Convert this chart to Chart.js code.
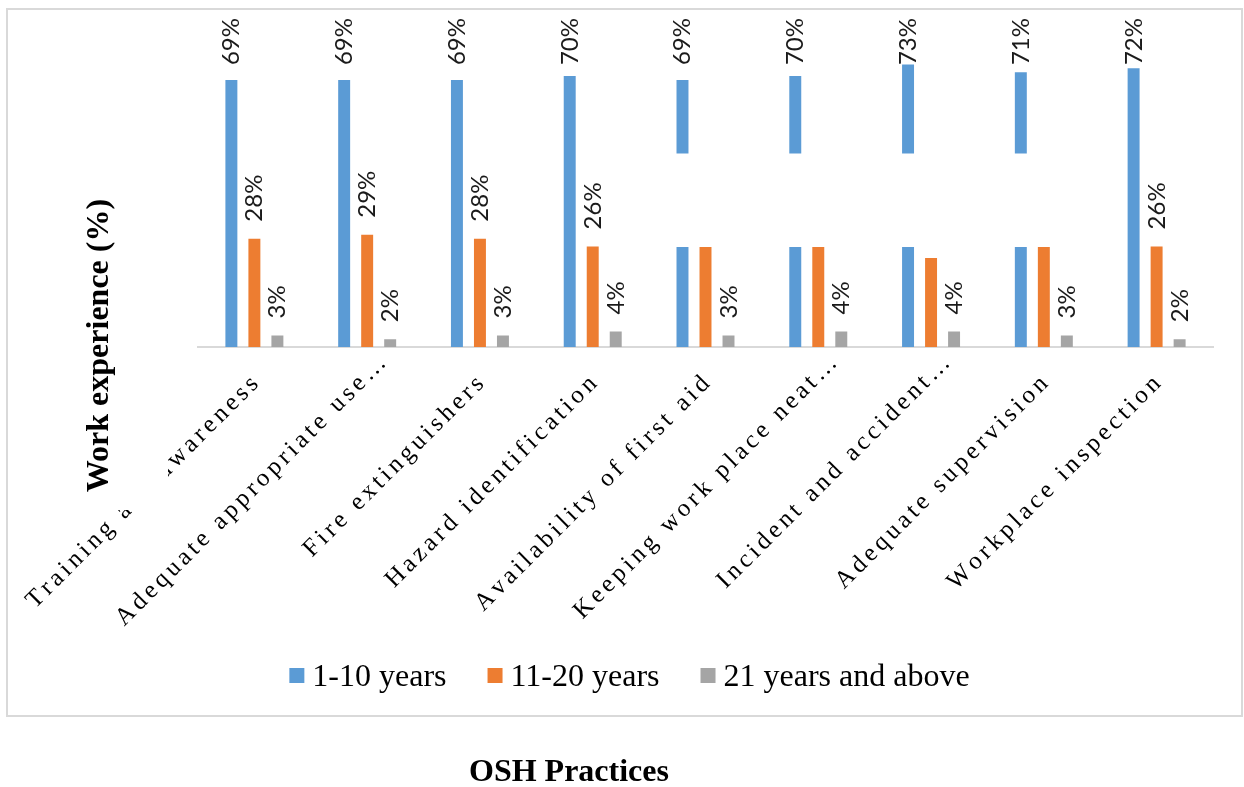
<!DOCTYPE html>
<html>
<head>
<meta charset="utf-8">
<script src="https://cdn.jsdelivr.net/npm/chart.js@4.4.1/dist/chart.umd.min.js"></script>
<style>
  html, body { margin: 0; padding: 0; background: #fff; }
  #wrap { width: 1244px; height: 787px; }
  canvas { display: block; }
</style>
</head>
<body>
<div id="wrap"><canvas id="chart" width="1244" height="787"></canvas></div>
<script>
// OSH practices by work experience group (percent of respondents)
const categories = [
  'Training and awareness',
  'Adequate appropriate use…',
  'Fire extinguishers',
  'Hazard identification',
  'Availability of first aid',
  'Keeping work place neat…',
  'Incident and accident…',
  'Adequate supervision',
  'Workplace inspection'
];
const years1to10  = [69, 69, 69, 70, 69, 70, 73, 71, 72];
const years11to20 = [28, 29, 28, 26, 28, 26, 23, 26, 26];
const years21plus = [3, 2, 3, 4, 3, 4, 4, 3, 2];
const seriesNames = ['1-10 years', '11-20 years', '21 years and above'];
const seriesColors = ['#5B9BD5', '#ED7D31', '#A5A5A5'];
const yTitle = 'Work experience (%)';
const xTitle = 'OSH Practices';

const SERIF = '"Liberation Serif", "Times New Roman", serif';
const LABEL_FONT = '24px Lato, "Open Sans", sans-serif';

// draws text right-aligned at the origin with extra spacing between characters
function drawSpaced(ctx, text, spacing) {
  const chars = [...text];
  const widths = chars.map(ch => ctx.measureText(ch).width);
  const total = widths.reduce((a, b) => a + b, 0) + spacing * (chars.length - 1);
  let x = -total;
  chars.forEach((ch, i) => { ctx.fillText(ch, x, 0); x += widths[i] + spacing; });
}

const decor = {
  id: 'decor',
  beforeDraw(chart) {
    const c = chart.ctx;
    c.save();
    c.fillStyle = '#fff';
    c.fillRect(0, 0, chart.width, chart.height);
    c.strokeStyle = '#d9d9d9';
    c.lineWidth = 2;
    c.strokeRect(7, 9, 1235, 707);
    c.restore();
  },
  afterDatasetsDraw(chart) {
    const c = chart.ctx;
    c.save();
    c.font = LABEL_FONT;
    c.fillStyle = '#1a1a1a';
    chart.data.datasets.forEach((ds, di) => {
      const meta = chart.getDatasetMeta(di);
      meta.data.forEach((bar, i) => {
        const txt = ds.data[i] + '%';
        const w = c.measureText(txt).width;
        let start = bar.y - 17;
        if (start - w < 18) start = 18 + w;
        c.save();
        c.translate(bar.x + 8, start);
        c.rotate(-Math.PI / 2);
        c.textAlign = 'left';
        c.textBaseline = 'alphabetic';
        c.fillText(txt, 0, 0);
        c.restore();
      });
    });
    // blank white panel laid across the middle of the right-hand groups
    c.fillStyle = '#fff';
    c.fillRect(640, 153.5, 450, 93.5);
    c.restore();
  },
  afterDraw(chart) {
    const c = chart.ctx;
    const x = chart.scales.x;
    c.save();
    // slanted category names
    c.font = '25px ' + SERIF;
    c.fillStyle = '#000';
    c.textBaseline = 'alphabetic';
    categories.forEach((name, i) => {
      const cx = x.getPixelForValue(i);
      const cut = name.endsWith('…');
      c.save();
      c.translate(cx + (cut ? 20 : 5), cut ? 364 : 385);
      c.rotate(-Math.PI / 4);
      drawSpaced(c, name, 3.8);
      c.restore();
    });
    // y-axis title on its white text box
    c.fillStyle = '#fff';
    c.fillRect(70, 170, 98, 340);
    c.fillStyle = '#000';
    c.font = 'bold 32px ' + SERIF;
    c.save();
    c.translate(108, 345.5);
    c.rotate(-Math.PI / 2);
    c.textAlign = 'center';
    c.fillText(yTitle, 0, 0);
    c.restore();
    // x-axis title below the frame
    c.textAlign = 'center';
    c.fillText(xTitle, 569, 781);

    // legend: colour square, short gap, series name
    c.font = '32px ' + SERIF;
    c.textAlign = 'left';
    const box = 15, gap = 8, itemGap = 41;
    const widths = seriesNames.map(n => c.measureText(n).width);
    const total = widths.reduce((a, b) => a + b, 0) + seriesNames.length * (box + gap) + itemGap * (seriesNames.length - 1);
    let lx = 629.5 - total / 2;
    seriesNames.forEach((n, i) => {
      c.fillStyle = seriesColors[i];
      c.fillRect(lx, 668, box, box);
      c.fillStyle = '#000';
      c.fillText(n, lx + box + gap, 686);
      lx += box + gap + widths[i] + itemGap;
    });
    c.restore();
  }
};

new Chart(document.getElementById('chart'), {
  type: 'bar',
  data: {
    labels: categories,
    datasets: [
      { label: seriesNames[0], data: years1to10,  backgroundColor: seriesColors[0] },
      { label: seriesNames[1], data: years11to20, backgroundColor: seriesColors[1] },
      { label: seriesNames[2], data: years21plus, backgroundColor: seriesColors[2] }
    ]
  },
  options: {
    responsive: false,
    animation: false,
    devicePixelRatio: 1,
    layout: { padding: { left: 18, right: 0, top: 37.4, bottom: 100 } },
    datasets: { bar: { barPercentage: 0.52, categoryPercentage: 0.612, borderWidth: 0 } },
    scales: {
      x: {
        grid: { display: false },
        border: { display: true, color: '#d9d9d9', width: 2 },
        ticks: { display: false },
        afterFit(s) { s.height = 340; }
      },
      y: {
        min: 0, max: 80,
        grid: { display: false },
        border: { display: false },
        ticks: { display: false },
        afterFit(s) { s.width = 180; }
      },
      y2: {
        type: 'linear', position: 'right', min: 0, max: 1,
        grid: { display: false },
        border: { display: false },
        ticks: { display: false },
        afterFit(s) { s.width = 31; }
      }
    },
    plugins: {
      tooltip: { enabled: false },
      legend: { display: false }
    }
  },
  plugins: [decor]
});
</script>
</body>
</html>
